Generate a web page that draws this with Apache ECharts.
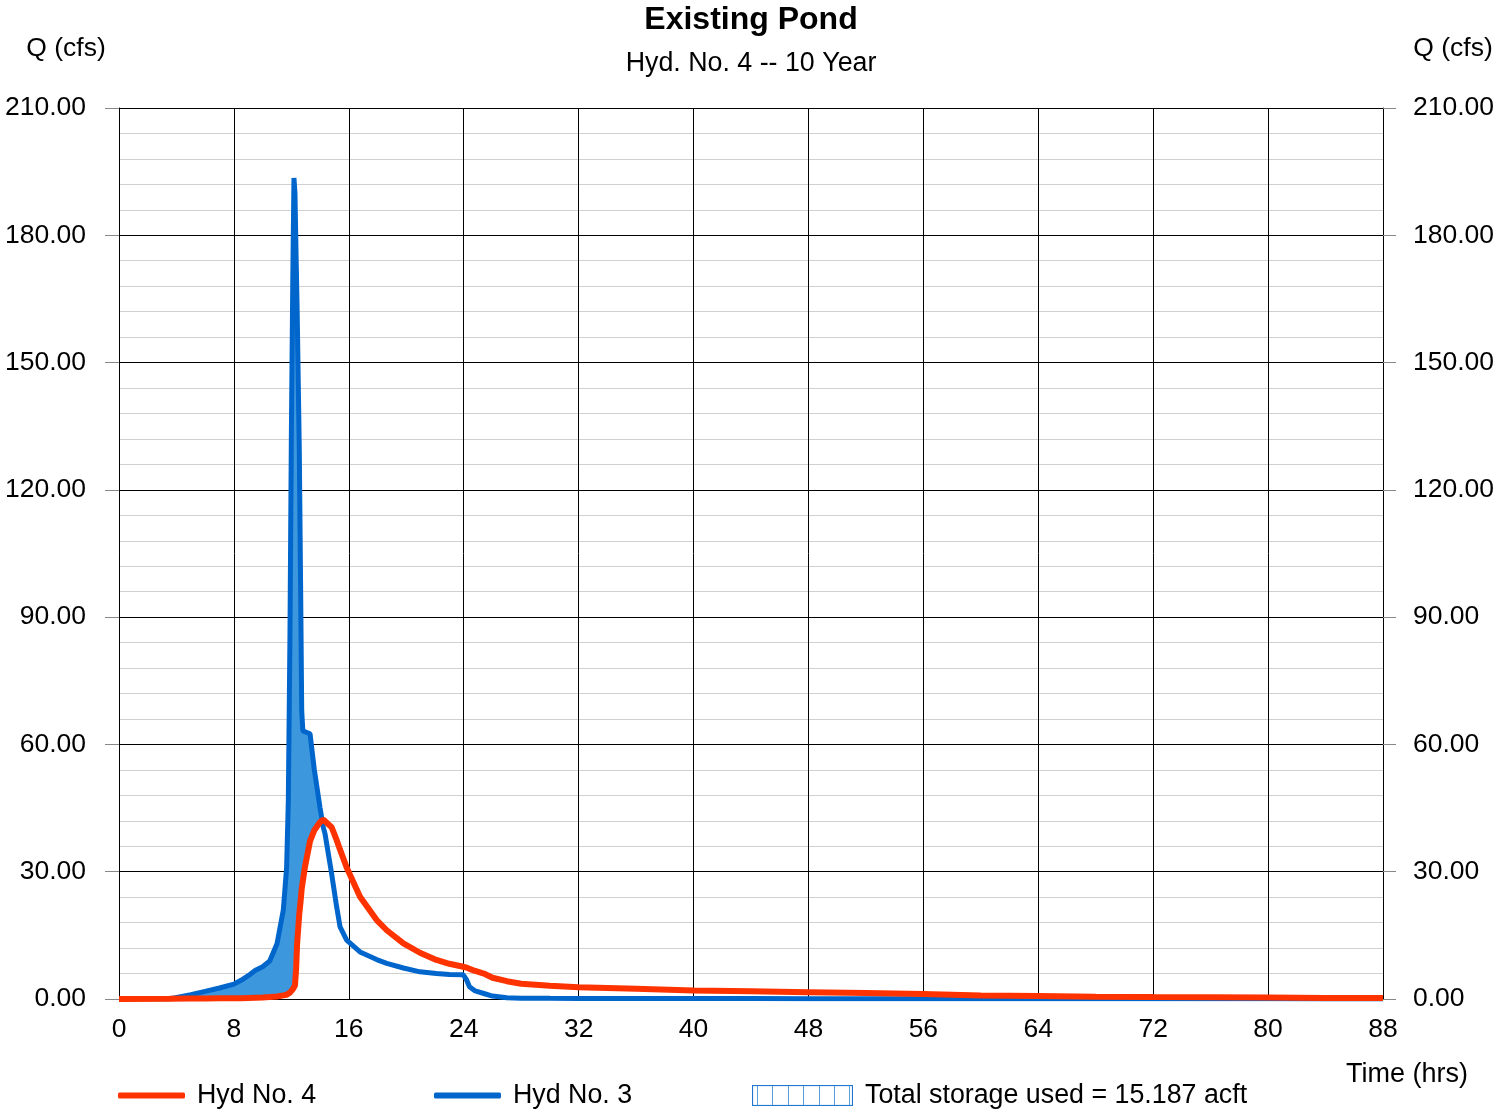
<!DOCTYPE html>
<html>
<head>
<meta charset="utf-8">
<script src="https://cdn.jsdelivr.net/npm/echarts@6/dist/echarts.min.js"></script>
<style>
html,body{margin:0;padding:0;background:#fff;}
#chart{width:1494px;height:1110px;}
</style>
</head>
<body>
<div id="chart"></div>
<script>
// ---- data ----
var timeHrs = [0, 3.5, 5, 6, 7, 8, 8.5, 9, 9.5, 10, 10.5, 11, 11.44, 11.67, 11.79, 11.9, 12.0, 12.1, 12.18, 12.25, 12.33, 12.4, 12.55, 12.65, 12.72, 12.8, 12.95, 13.3, 13.6, 14.0, 14.22, 14.34, 14.8, 15.15, 15.39, 15.85, 16.78, 17.94, 18.64, 19.8, 20.95, 22.1, 23.0, 23.97, 24.2, 24.4, 24.8, 25.4, 26, 27, 28, 30, 32, 36, 40, 44, 48, 52, 56, 60, 64, 68, 72, 76, 80, 84, 88];
var hyd3Flow = [0, 0, 1.0, 1.8, 2.6, 3.5, 4.4, 5.5, 6.8, 7.6, 9.0, 13.0, 21, 31, 47, 85, 133, 170, 193.5, 190, 175, 163, 130, 95, 68, 63.2, 63, 62.5, 54, 45, 40.5, 39, 29.6, 21.8, 17, 13.9, 11.1, 9.3, 8.4, 7.3, 6.4, 6.0, 5.8, 5.7, 4.5, 2.9, 1.9, 1.3, 0.7, 0.3, 0.2, 0.15, 0.12, 0.1, 0.1, 0.1, 0.08, 0.07, 0.06, 0.05, 0.05, 0.04, 0.04, 0.03, 0.03, 0.02, 0.02];
var hyd4Flow = [0, 0.05, 0.1, 0.1, 0.15, 0.2, 0.2, 0.25, 0.3, 0.35, 0.45, 0.6, 0.85, 1.0, 1.2, 1.5, 1.9, 2.3, 2.6, 3.2, 7, 13, 20, 23.3, 26, 27.8, 31.2, 37.2, 39.8, 41.7, 42.3, 42.2, 40.5, 37.5, 35.2, 31, 24.1, 18.6, 16.2, 13.1, 10.9, 9.2, 8.3, 7.6, 7.4, 7.1, 6.6, 6.0, 5.0, 4.2, 3.6, 3.1, 2.75, 2.4, 2.0, 1.8, 1.6, 1.4, 1.2, 0.85, 0.7, 0.55, 0.45, 0.4, 0.35, 0.25, 0.25];
var xTickHrs = [0, 8, 16, 24, 32, 40, 48, 56, 64, 72, 80, 88];
var yTickCfs = [0, 30, 60, 90, 120, 150, 180, 210];
var seriesNames = ['Hyd No. 4', 'Hyd No. 3', 'Total storage used = 15.187 acft'];
var titleText = 'Existing Pond';
var subTitleText = 'Hyd. No. 4 -- 10 Year';

// ---- build ----
var FONT = '"Liberation Sans", Arial, sans-serif';
function pairs(vals){ return timeHrs.map(function(t,i){ return [t, vals[i]]; }); }

var storageSvg = '<svg xmlns="http://www.w3.org/2000/svg" width="101" height="21" viewBox="0 0 101 21">' +
  '<rect x="0.5" y="0.5" width="100" height="20" fill="white" stroke="#1f77d0" stroke-width="1.2"/>' +
  [5,20,36,51,67,82,97].map(function(x){ return '<line x1="'+x+'.5" y1="1" x2="'+x+'.5" y2="20" stroke="#5a9fe0" stroke-width="1"/>'; }).join('') +
  '</svg>';
var storageIcon = 'image://data:image/svg+xml;charset=utf-8,' + encodeURIComponent(storageSvg);

// storage fill: region between inflow (Hyd 3) and outflow (Hyd 4) where inflow exceeds outflow
function renderStorage(params, api){
  var upper = [], lower = [];
  for (var i = 0; i < timeHrs.length; i++) {
    var b = hyd3Flow[i], r = hyd4Flow[i];
    upper.push(api.coord([timeHrs[i], Math.max(b, r)]));
    lower.push(api.coord([timeHrs[i], r]));
  }
  var pts = upper.concat(lower.reverse());
  return {
    type: 'polygon',
    shape: {points: pts},
    style: {fill: '#3c97dd', stroke: null},
    silent: true
  };
}

var chart = echarts.init(document.getElementById('chart'), null, {renderer:'canvas'});
var legendText = {fontFamily: FONT, fontSize: 26.8, color: '#000', padding: [0,0,0,7]};
var axisFont = 26.5;
var option = {
  animation: false,
  backgroundColor: '#fff',
  grid: {left: 119, right: 111, top: 108, bottom: 111, containLabel: false, outerBoundsMode: 'none'},
  xAxis: {
    type: 'value', min: xTickHrs[0], max: xTickHrs[xTickHrs.length-1], interval: 8,
    axisLine: {show: true, lineStyle: {color: '#000', width: 1}},
    axisTick: {show: false},
    axisLabel: {fontFamily: FONT, fontSize: axisFont, color: '#000', margin: 17,
      formatter: function(v){ return xTickHrs.indexOf(v) >= 0 ? String(v) : ''; }},
    splitLine: {show: true, lineStyle: {color: '#000', width: 1}}
  },
  yAxis: [{
    type: 'value', min: yTickCfs[0], max: yTickCfs[yTickCfs.length-1], interval: 30, position: 'left',
    axisLine: {show: true, lineStyle: {color: '#000', width: 1}},
    axisTick: {show: true, length: 14, lineStyle: {color: '#888'}},
    axisLabel: {fontFamily: FONT, fontSize: axisFont, color: '#000', margin: 33, padding: [4,0,0,0],
      formatter: function(v){ return v.toFixed(2); }},
    splitLine: {show: true, lineStyle: {color: '#000', width: 1}},
    minorTick: {show: false, splitNumber: 5},
    minorSplitLine: {show: true, lineStyle: {color: '#d0d0d0', width: 1}}
  }, {
    type: 'value', min: yTickCfs[0], max: yTickCfs[yTickCfs.length-1], interval: 30, position: 'right',
    axisLine: {show: true, lineStyle: {color: '#000', width: 1}},
    axisTick: {show: true, length: 13, lineStyle: {color: '#888'}},
    axisLabel: {fontFamily: FONT, fontSize: axisFont, color: '#000', margin: 30, padding: [4,0,0,0],
      formatter: function(v){ return v.toFixed(2); }},
    splitLine: {show: false}
  }],
  legend: [
    {data: [{name: seriesNames[0], icon: 'roundRect'}], left: 118, top: 1082, padding: 0, itemWidth: 67, itemHeight: 6, textStyle: legendText, selectedMode: false},
    {data: [{name: seriesNames[1], icon: 'roundRect'}], left: 434, top: 1082, padding: 0, itemWidth: 67, itemHeight: 6, textStyle: legendText, selectedMode: false},
    {data: [{name: seriesNames[2], icon: storageIcon}], left: 752, top: 1082, padding: 0, itemWidth: 101, itemHeight: 21, textStyle: legendText, selectedMode: false}
  ],
  graphic: [
    {type: 'text', x: 751, y: 20, style: {text: titleText, font: 'bold 32px ' + FONT, fill: '#000', align: 'center', verticalAlign: 'middle'}},
    {type: 'text', x: 751, y: 64, style: {text: subTitleText, font: '26.8px ' + FONT, fill: '#000', align: 'center', verticalAlign: 'middle'}},
    {type: 'text', x: 66, y: 49, style: {text: 'Q (cfs)', font: '26.5px ' + FONT, fill: '#000', align: 'center', verticalAlign: 'middle'}},
    {type: 'text', x: 1453, y: 49, style: {text: 'Q (cfs)', font: '26.5px ' + FONT, fill: '#000', align: 'center', verticalAlign: 'middle'}},
    {type: 'text', x: 1407, y: 1075, style: {text: 'Time (hrs)', font: '27px ' + FONT, fill: '#000', align: 'center', verticalAlign: 'middle'}}
  ],
  series: [
    {name: seriesNames[2], type: 'custom', renderItem: renderStorage, data: [[0, 0]],
      itemStyle: {color: '#3c97dd'}, silent: true, z: 2, clip: true},
    {name: seriesNames[1], type: 'line', data: pairs(hyd3Flow), symbol: 'none',
      lineStyle: {color: '#0066cc', width: 5}, itemStyle: {color: '#0066cc'}, z: 3},
    {name: seriesNames[0], type: 'line', data: pairs(hyd4Flow), symbol: 'none',
      lineStyle: {color: '#ff3300', width: 6}, itemStyle: {color: '#ff3300'}, z: 4}
  ]
};
chart.setOption(option);
</script>
</body>
</html>
